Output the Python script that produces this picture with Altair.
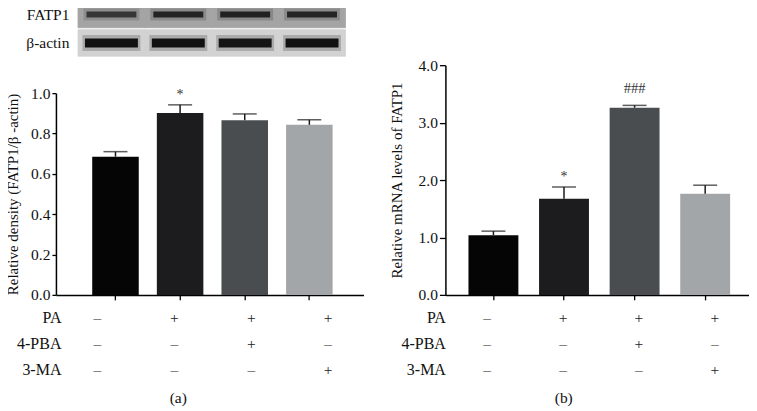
import altair as alt
import pandas as pd

FONT = "Liberation Serif"

# ---------------- data ----------------
groups = ["g1", "g2", "g3", "g4"]
treatment_rows = ["PA", "4-PBA", "3-MA"]
pa_signs = ["–", "+", "+", "+"]
pba_signs = ["–", "–", "+", "–"]
ma_signs = ["–", "–", "–", "+"]

density_mean = [0.685, 0.902, 0.866, 0.843]
density_sem = [0.025, 0.040, 0.031, 0.025]
density_sig = ["", "*", "", ""]

mrna_mean = [1.04, 1.675, 3.26, 1.76]
mrna_sem = [0.07, 0.205, 0.04, 0.15]
mrna_sig = ["", "*", "###", ""]

blot_rows = ["FATP1", "β-actin"]
fatp1_band = [0.62, 0.75, 0.76, 0.74]
actin_band = [0.9, 0.9, 0.88, 0.9]

density_ticks = [0.0, 0.2, 0.4, 0.6, 0.8, 1.0]
mrna_ticks = [0.0, 1.0, 2.0, 3.0, 4.0]

bar_colors = ["#050505", "#1c1c1e", "#4a4d50", "#a3a6a9"]

# ---------------- tables ----------------
def bar_df(mean, sem, sig):
    return pd.DataFrame({
        "group": groups,
        "mean": mean,
        "upper": [m + s for m, s in zip(mean, sem)],
        "sig": sig,
    })

cond_rows = []
for row, signs in zip(treatment_rows, [pa_signs, pba_signs, ma_signs]):
    for g, s in zip(groups, signs):
        cond_rows.append({"group": g, "row": row, "sign": s})
cond_df = pd.DataFrame(cond_rows)

blot_rows_data = []
for row, vals in zip(blot_rows, [fatp1_band, actin_band]):
    for g, v in zip(groups, vals):
        blot_rows_data.append({"group": g, "row": row, "intensity": v})
blot_df = pd.DataFrame(blot_rows_data)

ink = "#1a1a1a"


def bar_panel(df, width, height, ymax, ticks, ytitle, xscale, tick_size, label_pad, title_pad):
    base = alt.Chart(df)
    x = alt.X("group:N", sort=groups, scale=xscale,
              axis=alt.Axis(labels=False, title=None, domain=True, ticks=True,
                            tickSize=5, domainColor="black", tickColor="black",
                            domainWidth=1.5, tickWidth=1.3))
    xs = alt.X("group:N", sort=groups)
    y = alt.Y("mean:Q", scale=alt.Scale(domain=[0, ymax], nice=False, zero=True),
              axis=alt.Axis(values=ticks, format=".1f", title=ytitle, grid=False,
                            domainColor="black", tickColor="black", domainWidth=1.5,
                            tickWidth=1.3, tickSize=tick_size, labelPadding=label_pad,
                            titlePadding=title_pad, labelFontSize=15.5,
                            titleFontSize=15, titleFontWeight="normal"))
    bars = base.mark_bar().encode(
        x=x, y=y,
        color=alt.Color("group:N", scale=alt.Scale(domain=groups, range=bar_colors), legend=None),
    )
    err = base.mark_rule(color=ink, strokeWidth=1.5).encode(x=xs, y="mean:Q", y2="upper:Q")
    cap = base.mark_tick(orient="horizontal", size=24, thickness=1.5, color=ink).encode(
        x=xs, y="upper:Q")
    star = base.transform_filter("datum.sig === '*'").mark_text(
        font=FONT, fontSize=14, color="#333", dy=-6, baseline="alphabetic").encode(
        x=xs, y="upper:Q", text="sig:N")
    hashes = base.transform_filter("datum.sig === '###'").mark_text(
        font=FONT, fontSize=14.5, color="#333", dy=-12, baseline="alphabetic").encode(
        x=xs, y="upper:Q", text="sig:N")
    return alt.layer(bars, err, cap, star, hashes).properties(width=width, height=height)


def table_panel(width, xscale, label_pad, caption, caption_x):
    return alt.Chart(cond_df).mark_text(font=FONT, fontSize=15.5, color="#222").encode(
        x=alt.X("group:N", sort=groups, scale=xscale,
                axis=alt.Axis(labels=False, ticks=False, domain=False, title=caption,
                              titleX=caption_x, titlePadding=8, titleFontSize=15.5,
                              titleFontWeight="normal")),
        y=alt.Y("row:N", sort=treatment_rows,
                axis=alt.Axis(title=None, domain=False, ticks=False, tickSize=0,
                              labelPadding=label_pad, labelFontSize=16)),
        text="sign:N",
    ).properties(width=width, height=78)


xs_a = alt.Scale(domain=groups, paddingInner=0.28, paddingOuter=0.52, align=0.54)
xs_b = alt.Scale(domain=groups, paddingInner=0.293, paddingOuter=0.297, align=0.55)
xs_blot = alt.Scale(domain=groups, paddingInner=0, paddingOuter=0.3, align=0.55)

# ---------------- blot ----------------
blot_x = alt.X("group:N", sort=groups, scale=xs_blot, axis=None)
blot_y = alt.Y("row:N", sort=blot_rows, scale=alt.Scale(domain=blot_rows, paddingInner=0.07, paddingOuter=0),
               axis=alt.Axis(title=None, domain=False, ticks=False, tickSize=0,
                             labelPadding=-13, labelFontSize=15.5))
is_fatp1 = "datum.row === 'FATP1'"
blot_bg = alt.Chart(blot_df).mark_rect(strokeWidth=0.8).encode(
    x=blot_x, y=blot_y,
    color=alt.condition(is_fatp1, alt.value("#a4a4a4"), alt.value("#d2d2d2")),
    stroke=alt.condition(is_fatp1, alt.value("#a4a4a4"), alt.value("#d2d2d2")),
)
op = alt.Opacity("intensity:Q", scale=alt.Scale(domain=[0, 1], range=[0, 1]), legend=None)
op_soft = alt.FillOpacity("intensity:Q", scale=alt.Scale(domain=[0, 1], range=[0, 0.3]), legend=None)
bx = alt.X("group:N", sort=groups)
by = alt.Y("row:N", sort=blot_rows)
fat = alt.Chart(blot_df).transform_filter(is_fatp1)
act = alt.Chart(blot_df).transform_filter("datum.row === 'β-actin'")
band_f_halo = fat.mark_tick(orient="horizontal", size=56, thickness=12, color="black").encode(
    x=bx, y=by, fillOpacity=op_soft)
band_f = fat.mark_tick(orient="horizontal", size=50, thickness=6, color="black").encode(
    x=bx, y=by, opacity=op)
band_a_halo = act.mark_tick(orient="horizontal", size=58, thickness=16, color="black").encode(
    x=bx, y=by, fillOpacity=op_soft)
band_a = act.mark_tick(orient="horizontal", size=53, thickness=9, color="black").encode(
    x=bx, y=by, opacity=op)
blot = alt.layer(blot_bg, band_f_halo, band_f, band_a_halo, band_a).properties(width=308, height=55)

# ---------------- panels ----------------
bars_a = bar_panel(bar_df(density_mean, density_sem, density_sig), 308, 202, 1.0,
                   density_ticks, "Relative density (FATP1/β -actin)", xs_a, 4, 2, 10)
bars_b = bar_panel(bar_df(mrna_mean, mrna_sem, mrna_sig), 304, 230, 4.0,
                   mrna_ticks, "Relative mRNA levels of FATP1", xs_b, 6, 2, 14)

table_a = table_panel(308, xs_a, -5, "(a)", 122)
table_b = table_panel(304, xs_b, 0, "(b)", 118)

spacer = alt.Chart(pd.DataFrame({"v": [0]})).mark_point(opacity=0, size=1).encode(
    x=alt.value(0), y=alt.value(0)).properties(width=304, height=55)

panel_a = alt.vconcat(
    blot,
    alt.vconcat(bars_a, table_a, spacing=10, bounds="flush"),
    spacing=37, bounds="flush",
)
panel_b = alt.vconcat(
    spacer,
    alt.vconcat(bars_b, table_b, spacing=10, bounds="flush"),
    spacing=9, bounds="flush",
)

chart = alt.hconcat(panel_a, panel_b, spacing=25).properties(
    padding={"left": -3, "top": -8, "right": 0, "bottom": 0}
).configure_view(stroke=None).configure_axis(
    labelFont=FONT, titleFont=FONT, labelColor="#111", titleColor="#111"
).configure_text(font=FONT)

chart.save("out.html", embed_options={"renderer": "svg", "actions": False})
